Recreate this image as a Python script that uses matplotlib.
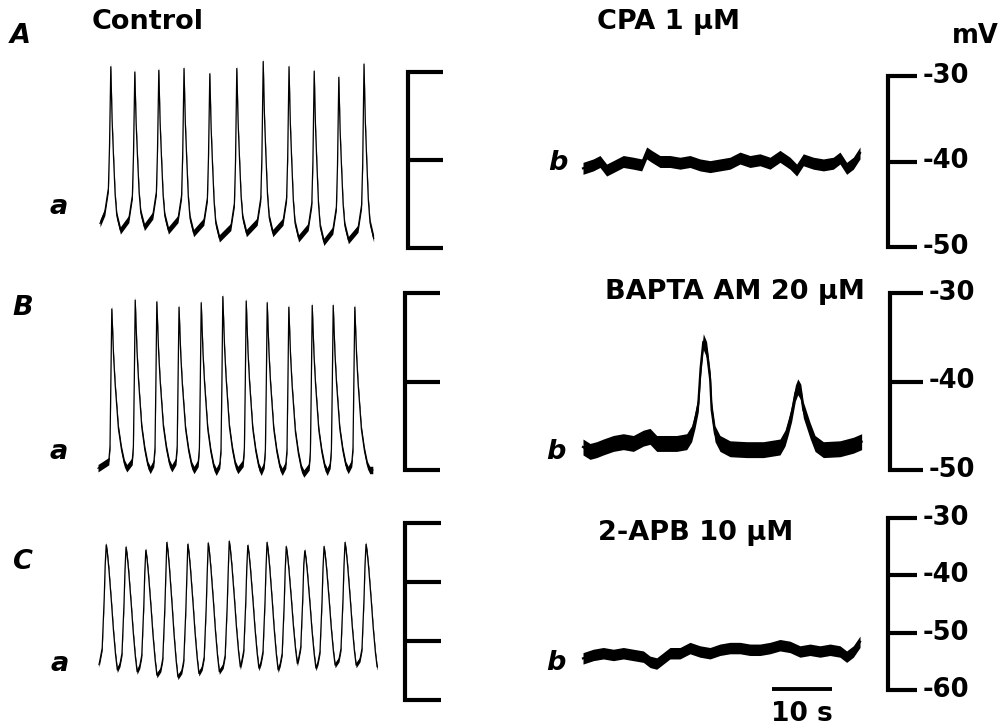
import matplotlib.pyplot as plt
import numpy as np

plt.rcParams["font.family"] = ["DejaVu Sans"]

W, H = 1004, 728
PX_PER_S = 6.0

# ---- control traces (a): spike peak times (s), peak and following trough (mV)
a_peak_t = [1.8, 5.8, 9.8, 14.0, 18.3, 22.8, 27.2, 31.5, 35.7, 39.8, 44.0]
a_peak_v = [-29.4, -30.0, -29.8, -29.6, -30.2, -29.6, -28.8, -29.4, -29.9, -30.6, -29.1]
a_trough_v = [-48.0, -47.6, -48.0, -48.3, -48.9, -48.3, -48.3, -48.9, -49.3, -49.1, -48.9]

b_ctl_peak_t = [2.3, 6.2, 9.8, 13.5, 17.2, 20.8, 24.7, 28.2, 31.8, 35.7, 39.2, 42.8]
b_ctl_peak_v = [-31.8, -30.8, -31.0, -31.6, -31.1, -30.4, -30.9, -31.1, -31.6, -31.4, -31.4, -31.6]
b_ctl_trough_v = [-49.8, -50.0, -49.8, -50.0, -50.2, -50.0, -50.2, -50.2, -50.4, -50.2, -50.0, -50.0]

c_ctl_peak_t = [1.2, 4.5, 7.8, 11.3, 14.8, 18.2, 21.7, 24.8, 28.0, 31.2, 34.3, 37.5, 41.0, 44.5]
c_ctl_peak_v = [-33.7, -34.1, -34.6, -33.3, -33.6, -33.4, -33.1, -33.8, -33.3, -34.0, -34.7, -34.0, -33.3, -33.6]
c_ctl_trough_v = [-54.9, -55.2, -55.8, -56.1, -55.5, -55.2, -54.4, -54.6, -54.9, -53.8, -54.6, -54.1, -54.1, -54.4]

# ---- drug traces (b): time (s) and membrane potential (mV), centre of the noise band
cpa_t = [0.0, 1.72, 2.83, 3.94, 5.06, 6.72, 8.39, 9.78, 10.61, 11.44, 12.83, 14.5, 16.17,
         17.83, 19.5, 21.17, 22.83, 24.5, 26.17, 27.83, 29.5, 31.17, 32.83, 34.5, 35.61,
         36.72, 38.39, 40.06, 41.72, 42.83, 43.94, 45.06, 46.17]
cpa_v = [-40.8, -40.4, -40.0, -41.0, -40.6, -40.0, -40.2, -40.4, -39.0, -39.4, -40.0, -40.0,
         -40.2, -40.0, -40.4, -40.6, -40.4, -40.2, -39.6, -40.0, -39.8, -40.2, -39.4, -40.2,
         -41.0, -39.8, -40.2, -40.4, -40.2, -39.6, -40.8, -40.2, -39.0]

bapta_t = [0.0, 1.17, 2.28, 3.39, 5.06, 6.72, 8.39, 10.06, 11.17, 12.28, 13.94, 15.61,
           17.28, 18.11, 18.67, 19.22, 19.6, 20.05, 20.6, 21.2, 21.44, 22.0, 22.83, 24.5,
           27.28, 30.06, 32.83, 33.67, 34.22, 34.78, 35.4, 35.8, 36.3, 36.72, 37.83, 38.67,
           40.06, 42.83, 45.06, 46.44]
bapta_v = [-47.4, -47.9, -47.7, -47.4, -47.0, -46.8, -47.0, -46.4, -46.2, -47.0, -47.0,
           -47.0, -46.8, -45.9, -44.4, -42.5, -38.5, -35.5, -36.4, -39.8, -43.2, -45.9,
           -47.0, -47.6, -47.7, -47.7, -47.4, -46.4, -45.1, -43.6, -41.3, -40.6, -41.2,
           -43.2, -45.5, -47.0, -47.7, -47.6, -47.2, -46.8]

apb_t = [0.0, 1.72, 3.39, 5.06, 6.72, 8.39, 10.06, 11.17, 12.28, 13.39, 14.5, 16.17, 17.83,
         19.5, 21.17, 22.83, 24.5, 26.17, 27.83, 29.5, 31.17, 32.83, 34.5, 36.17, 37.83,
         39.5, 41.17, 42.83, 43.94, 45.06, 46.17]
apb_v = [-54.5, -53.9, -53.6, -53.9, -53.6, -53.9, -54.2, -55.1, -55.4, -54.5, -53.6, -53.6,
         -52.7, -53.3, -53.6, -53.0, -52.7, -52.7, -53.0, -53.0, -52.7, -52.2, -52.5, -53.3,
         -53.0, -53.3, -53.0, -53.3, -54.2, -53.3, -51.6]

# spike shapes: rise (s before peak, mV above previous trough),
# decay (s after peak, fraction of the drop to the next trough)
shape_a = dict(rise_dt=[-1.0, -0.4, -0.22], rise_dv=[1.3, 4.0, 8.6],
               decay_dt=[0.22, 0.44, 0.72, 1.0, 1.6], decay_f=[0.33, 0.54, 0.78, 0.91, 1.0])
shape_b = dict(rise_dt=[-0.5, -0.3, -0.15], rise_dv=[0.8, 2.5, 10.0],
               decay_dt=[0.1, 0.3, 0.55, 0.8, 1.1, 1.6, 2.1, 2.5],
               decay_f=[0.1, 0.3, 0.47, 0.6, 0.75, 0.88, 0.97, 1.0])
shape_c = dict(rise_dt=[-1.0, -0.67, -0.33, -0.17], rise_dv=[1.0, 2.8, 11.3, 16.9],
               decay_dt=[0.2, 0.44, 0.89, 1.2, 1.56, 1.85],
               decay_f=[0.07, 0.19, 0.47, 0.68, 0.88, 1.0])


def spike_trace(peak_t, peak_v, trough_v, start_v, end_t, shape):
    t, v = [0.0], [start_v]
    prev = start_v
    for tp, pk, tr in zip(peak_t, peak_v, trough_v):
        for dt, dv in zip(shape["rise_dt"], shape["rise_dv"]):
            t.append(tp + dt)
            v.append(prev + dv)
        t.append(tp)
        v.append(pk)
        for dt, f in zip(shape["decay_dt"], shape["decay_f"]):
            t.append(tp + dt)
            v.append(pk - f * (pk - tr))
        prev = tr
    if end_t > t[-1]:
        t.append(end_t)
        v.append(prev)
    return np.array(t), np.array(v)


fig = plt.figure(figsize=(W / 100, H / 100), dpi=100)


def panel_axes(x0_px, y30_px, px_per_mv):
    # full-figure axes; trace time 0 sits at x0_px, -30 mV at y30_px
    ax = fig.add_axes([0, 0, 1, 1])
    ax.set_xlim(-x0_px / PX_PER_S, (W - x0_px) / PX_PER_S)
    ax.set_ylim(-30 - (H - y30_px) / px_per_mv, -30 + y30_px / px_per_mv)
    ax.axis("off")
    ax.patch.set_visible(False)
    return ax


def bracket(ax, t0, length, levels, labels=False):
    top, bottom = max(levels), min(levels)
    ax.plot([t0 + length, t0, t0, t0 + length], [top, top, bottom, bottom],
            color="black", lw=3.0, solid_joinstyle="miter", solid_capstyle="butt",
            clip_on=False)
    for lv in levels[1:-1]:
        ax.plot([t0, t0 + length], [lv, lv], color="black", lw=3.0,
                solid_capstyle="butt", clip_on=False)
    if labels:
        for lv in levels:
            ax.text(t0 + length + 1.0, lv, f"{lv}", ha="left", va="center",
                    fontsize=18.5, fontweight="bold")


def draw_trace(ax, t, v, half_width, lw):
    # vertical noise band of the recording around the trace centre
    t, v = np.asarray(t), np.asarray(v)
    ax.fill_between(t, v - half_width, v + half_width, color="black", lw=0)
    ax.plot(t, v, color="black", lw=lw, solid_joinstyle="round", clip_on=False)


# row A
ax = panel_axes(100, 72, 8.8)
t, v = spike_trace(a_peak_t, a_peak_v, a_trough_v, -47.2, 45.5, shape_a)
draw_trace(ax, t, v, 0.42, 0.9)
bracket(ax, 51.33, 5.83, [-30, -40, -50])

ax = panel_axes(583, 76, 8.55)
draw_trace(ax, cpa_t, cpa_v, 0.7, 1.6)
bracket(ax, 50.83, 4.83, [-30, -40, -50], labels=True)

# row B
ax = panel_axes(98, 293, 8.85)
t, v = spike_trace(b_ctl_peak_t, b_ctl_peak_v, b_ctl_trough_v, -49.8, 45.8, shape_b)
draw_trace(ax, t, v, 0.42, 0.9)
bracket(ax, 51.17, 5.83, [-30, -40, -50])

ax = panel_axes(583, 293, 8.85)
draw_trace(ax, bapta_t, bapta_v, 0.9, 1.6)
bracket(ax, 51.17, 5.5, [-30, -40, -50], labels=True)

# row C
ax = panel_axes(99, 523, 5.9)
t, v = spike_trace(c_ctl_peak_t, c_ctl_peak_v, c_ctl_trough_v, -54.0, 46.4, shape_c)
draw_trace(ax, t, v, 0.45, 0.9)
bracket(ax, 51.0, 6.0, [-30, -40, -50, -60])

ax = panel_axes(583, 518, 5.73)
draw_trace(ax, apb_t, apb_v, 1.0, 1.6)
bracket(ax, 50.83, 4.83, [-30, -40, -50, -60], labels=True)
ax.plot([31.5, 41.5], [-59.8, -59.8], color="black", lw=2.8, solid_capstyle="butt")
ax.text(36.5, -62.0, "10 s", ha="center", va="top", fontsize=19, fontweight="bold")


def label(x_px, y_px, s, **kw):
    kw.setdefault("fontsize", 19.5)
    kw.setdefault("fontweight", "bold")
    fig.text(x_px / W, 1 - y_px / H, s, va="center", ha=kw.pop("ha", "left"), **kw)


label(10, 36, "A", style="italic")
label(12, 308, "B", style="italic")
label(12, 562, "C", style="italic")
label(50, 207, "a", style="italic")
label(50, 452, "a", style="italic")
label(51, 664, "a", style="italic")
label(548, 163, "b", style="italic")
label(546, 452, "b", style="italic")
label(546, 663, "b", style="italic")
label(92, 22, "Control")
label(597, 22, "CPA 1 \u03bcM")
label(865, 292, "BAPTA AM 20 \u03bcM", ha="right")
label(598, 533, "2-APB 10 \u03bcM")
label(952, 36, "mV", fontsize=18.5)

fig.savefig("out.png", dpi=100)
